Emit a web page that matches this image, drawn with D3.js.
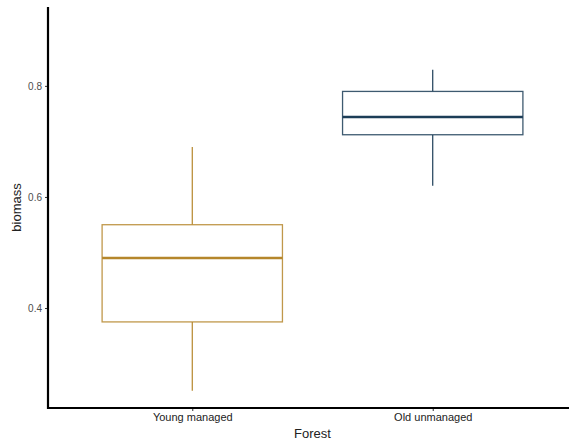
<!DOCTYPE html>
<html><head><meta charset="utf-8">
<script src="https://cdn.jsdelivr.net/npm/d3@7"></script>
<style>body{margin:0;background:#fff}svg{display:block}</style>
</head><body>
<svg id="c" width="569" height="442"></svg>
<script>
const categories = ["Young managed", "Old unmanaged"];
const lowerWhisker = [0.251, 0.620];
const q1 = [0.375, 0.712];
const median = [0.490, 0.744];
const q3 = [0.550, 0.790];
const upperWhisker = [0.690, 0.829];
const colors = ["#B5862B", "#1C3D57"];
const yTicks = [0.4, 0.6, 0.8];

(function(){
const svg = d3.select("#c");
const mLeft = 48, mRight = 577, mTop = 7, mBottom = 408;
const x = d3.scalePoint().domain(categories).range([mLeft, mRight]).padding(0.6);
const y = d3.scaleLinear().domain([0.22, 0.942]).range([mBottom, mTop]);
const boxW = x.step() * 0.75;

const g = svg.append("g");
categories.forEach((c, i) => {
  const cx = x(c);
  g.append("line").attr("x1", cx).attr("x2", cx).attr("y1", y(upperWhisker[i])).attr("y2", y(q3[i]))
    .attr("stroke", colors[i]).attr("stroke-width", 1.2);
  g.append("line").attr("x1", cx).attr("x2", cx).attr("y1", y(q1[i])).attr("y2", y(lowerWhisker[i]))
    .attr("stroke", colors[i]).attr("stroke-width", 1.2);
  g.append("rect").attr("x", cx - boxW/2).attr("width", boxW)
    .attr("y", y(q3[i])).attr("height", y(q1[i]) - y(q3[i]))
    .attr("fill", "#fff").attr("stroke", colors[i]).attr("stroke-width", 1.3).attr("stroke-opacity", 0.85);
  g.append("line").attr("x1", cx - boxW/2).attr("x2", cx + boxW/2).attr("y1", y(median[i])).attr("y2", y(median[i]))
    .attr("stroke", colors[i]).attr("stroke-width", 2.6);
});

const ya = svg.append("g").attr("transform", `translate(${mLeft},0)`)
  .call(d3.axisLeft(y).tickValues(yTicks).tickFormat(d3.format(".1f")).tickSize(3).tickPadding(3));
ya.select(".domain").remove();
ya.selectAll("line").attr("stroke", "#333");
ya.selectAll("text").attr("fill", "#4d4d4d").style("font-family", "Liberation Sans, Arial, sans-serif").style("font-size", "10px");
svg.append("line").attr("x1", mLeft).attr("x2", mLeft).attr("y1", mTop).attr("y2", mBottom + 1)
  .attr("stroke", "#000").attr("stroke-width", 2.2);

const xa = svg.append("g").attr("transform", `translate(0,${mBottom})`)
  .call(d3.axisBottom(x).tickSize(3).tickPadding(2));
xa.select(".domain").remove();
xa.selectAll("line").attr("stroke", "#333");
xa.selectAll("text").attr("fill", "#222").style("font-family", "Liberation Sans, Arial, sans-serif").style("font-size", "11px");
svg.append("line").attr("x1", mLeft - 1).attr("x2", 569).attr("y1", mBottom).attr("y2", mBottom)
  .attr("stroke", "#000").attr("stroke-width", 2.2);

svg.append("text").attr("x", (mLeft + mRight)/2).attr("y", 438).attr("text-anchor", "middle")
  .style("font-family", "Liberation Sans, Arial, sans-serif").style("font-size", "13px").attr("fill", "#222").text("Forest");
svg.append("text").attr("transform", `translate(21,${(mTop+mBottom)/2}) rotate(-90)`).attr("text-anchor", "middle")
  .style("font-family", "Liberation Sans, Arial, sans-serif").style("font-size", "13px").attr("fill", "#222").text("biomass");
})();
</script>
</body></html>
